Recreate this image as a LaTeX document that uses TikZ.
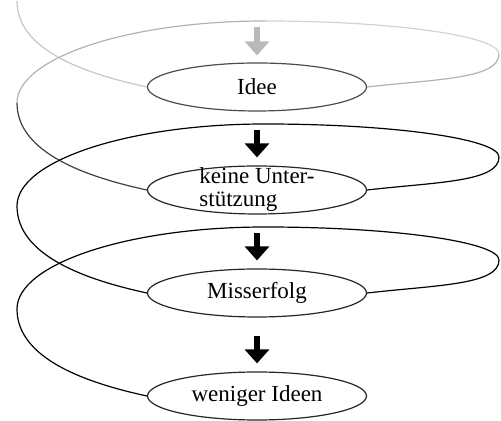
\documentclass[tikz,border=0pt]{standalone}
\usepackage{fontspec}
\setmainfont{Liberation Serif}
\usetikzlibrary{arrows.meta, positioning, shapes.geometric}

\begin{document}
\begin{tikzpicture}[
        x=0.5pt, y=0.5pt, node distance=51.5pt, on grid,
        font=\fontsize{11.5}{11.5}\selectfont,
        stage/.style={ellipse, draw=black!85, line width=0.6pt,
          minimum width=109.5pt, minimum height=24pt, inner sep=1pt},
        flow/.style={-{Triangle[width=12pt, length=7pt]}, line width=2.75pt,
          shorten <=9pt, shorten >=4pt},
        coil/.style={line width=0.6pt}
        ]
        \useasboundingbox (0,0) rectangle (501,421);

        \node[stage, draw=black!70]     (idea)    at (257,334)         {Idee};
        \node[stage, label={[align=left]center:keine Unter-\\stützung}]
                                        (support) [below=of idea]      {};
        \node[stage]                    (failure) [below=of support]   {Misserfolg};
        \node[stage]                    (fewer)   [below=of failure]   {weniger Ideen};

        % turning points of the coil
        \coordinate (entry) at (17,420);
        \coordinate (drop)  at (257,394);
        \foreach \n/\c in {1/334, 2/231, 3/128} {
          \coordinate (r\n) at (499,\c+33);
          \coordinate (t\n) at (265,\c+66);
          \coordinate (l\n) at (17,\c-16);
        }

        \draw[coil, gray!45] (entry) .. controls +(0,-50) and +(-60,13) .. (idea.west);
        \draw[coil, gray!60] (idea.east) .. controls +(70,8) and +(0,-25) .. (r1);
        \draw[coil, gray!35] (r1) .. controls +(0,18) and +(129,0) .. (t1);
        \draw[coil, gray!60] (t1) .. controls +(-137,0) and +(0,45) .. (l1);
        \draw[coil, black!75] (l1) .. controls +(0,-50) and +(-60,13) .. (support.west);
        \foreach \from/\to/\n in {support/failure/2, failure/fewer/3}
          \draw[coil] (\from.east) .. controls +(70,8) and +(0,-25) .. (r\n)
            .. controls +(0,18) and +(129,0) .. (t\n)
            .. controls +(-137,0) and +(0,45) .. (l\n)
            .. controls +(0,-50) and +(-60,13) .. (\to.west);

        \draw[flow, gray!55, shorten <=0pt, shorten >=3.5pt] (drop) -- (idea);
        \draw[flow] (idea) -- (support);
        \draw[flow] (support) -- (failure);
        \draw[flow] (failure) -- (fewer);
      \end{tikzpicture}
\end{document}
